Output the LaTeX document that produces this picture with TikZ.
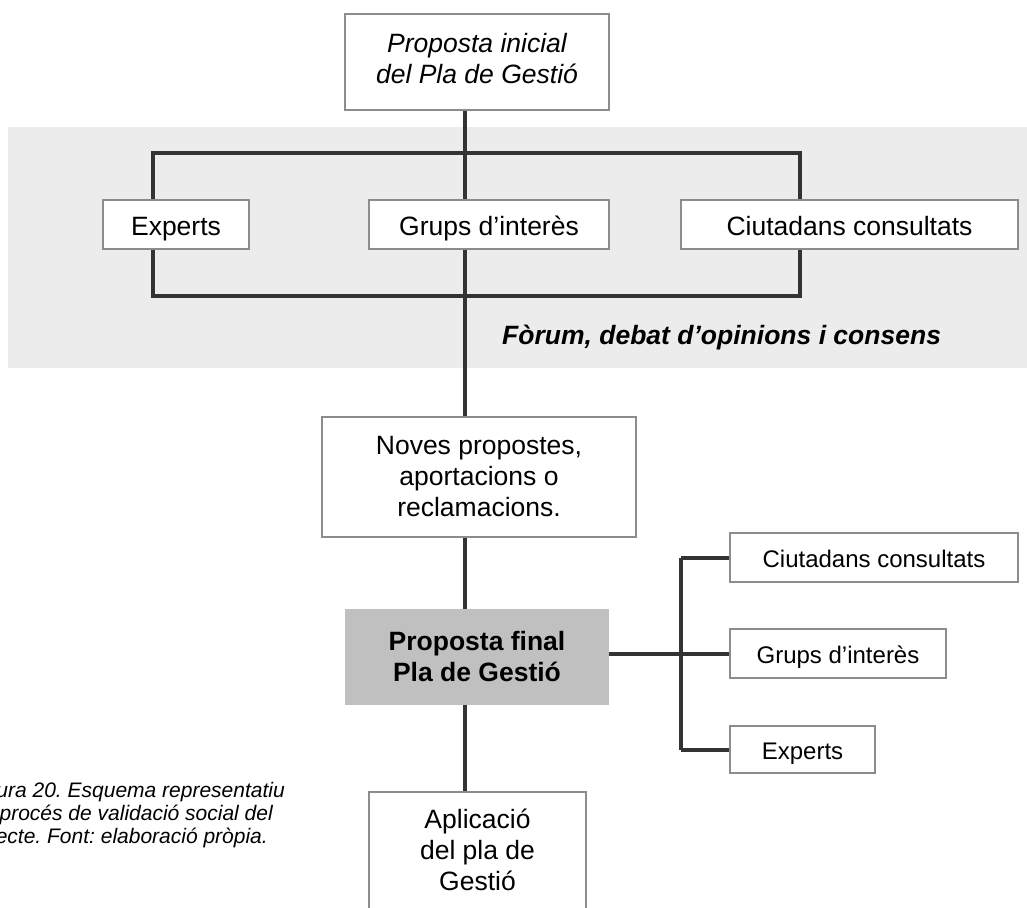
\documentclass[tikz,border=0pt]{standalone}
\usepackage{fontspec}
\setmainfont{Liberation Sans}
\frenchspacing
\definecolor{bandgray}{HTML}{ECECEC}
\definecolor{finalgray}{HTML}{C0C0C0}
\definecolor{bordergray}{HTML}{8C8C8C}
\definecolor{linedark}{HTML}{333333}
\newcommand{\mainfs}{\fontsize{26.5}{31}\selectfont}
\newcommand{\smallfs}{\fontsize{24}{29}\selectfont}
\newcommand{\capfs}{\fontsize{21}{23}\selectfont}
\begin{document}
\begin{tikzpicture}[x=1pt,y=-1pt,
  box/.style={draw=bordergray, line width=2.5pt, fill=white, inner sep=0pt, align=center, font=\mainfs},
  onebox/.style={box, text height=22.4pt, text depth=0pt},
  rbox/.style={box, font=\smallfs, text height=20pt, text depth=0pt},
  finalbox/.style={fill=finalgray, inner sep=0pt, align=center, font=\mainfs\bfseries},
  conn/.style={draw=linedark, line width=4pt, line join=miter},
  captext/.style={font=\capfs\itshape, inner sep=0pt}]
\useasboundingbox (0,0) rectangle (1027,907);
\clip (0,0) rectangle (1027,907);
% background band
\fill[bandgray] (8,127) rectangle (1040,368);
% helper coordinates
\coordinate (cx) at (465,0);
\coordinate (lx) at (153,0);
\coordinate (rx) at (800,0);
\coordinate (bt) at (0,152.5);
\coordinate (bb) at (0,296);
\coordinate (bx) at (681,0);
% nodes
\node[box, minimum width=264pt, minimum height=96pt] (top) at (477,62)
  {\raisebox{4pt}{\itshape\begin{tabular}{@{}c@{}}Proposta inicial\\del Pla de Gestió\end{tabular}}};
\node[onebox, minimum width=146pt, minimum height=49pt] (experts) at (176,224.5) {Experts};
\node[onebox, minimum width=240pt, minimum height=49pt] (grups) at (489,224.5) {Grups d’interès};
\node[onebox, minimum width=337pt, minimum height=49pt] (ciut) at (849.5,224.5) {Ciutadans consultats};
\node[font=\mainfs\bfseries\itshape, anchor=base west, inner sep=0pt] (forum) at (502,344) {Fòrum, debat d’opinions i consens};
\node[box, minimum width=314pt, minimum height=120pt] (noves) at (479,477) {Noves propostes,\\aportacions o\\reclamacions.};
\node[finalbox, minimum width=264pt, minimum height=96pt] (final) at (477,657) {Proposta final\\Pla de Gestió};
\node[box, minimum width=217pt, minimum height=122pt] (apl) at (477.5,853) {\raisebox{3pt}{\begin{tabular}{@{}c@{}}Aplicació\\del pla de\\Gestió\end{tabular}}};
\node[rbox, minimum width=288pt, minimum height=49pt] (c2) at (874,557.5) {Ciutadans consultats};
\node[rbox, minimum width=216pt, minimum height=49pt] (g2) at (838,653.5) {Grups d’interès};
\node[rbox, minimum width=145pt, minimum height=47pt] (e2) at (802.5,749.5) {Experts};
% caption (cut off at the left edge)
\node[captext, anchor=base east] (cap1) at (285,797) {ura 20. Esquema representatiu};
\node[captext, anchor=base east] (cap2) at (273,820) {procés de validació social del};
\node[captext, anchor=base east] (cap3) at (268,843) {ecte. Font: elaboració pròpia.};
% connectors
\draw[conn] (top.south -| cx) -- (grups.north -| cx);
\draw[conn] (experts.north -| lx) -- (lx |- bt) -- (rx |- bt) -- (ciut.north -| rx);
\draw[conn] (experts.south -| lx) -- (lx |- bb) -- (rx |- bb) -- (ciut.south -| rx);
\draw[conn] (grups.south -| cx) -- (noves.north -| cx);
\draw[conn] (noves.south -| cx) -- (final.north -| cx);
\draw[conn] (final.south -| cx) -- (apl.north -| cx);
\draw[conn] (final.east |- g2.west) -- (g2.west);
\draw[conn] (c2.west -| bx) -- (e2.west -| bx);
\draw[conn] (c2.west -| bx) -- (c2.west);
\draw[conn] (e2.west -| bx) -- (e2.west);
\end{tikzpicture}
\end{document}
